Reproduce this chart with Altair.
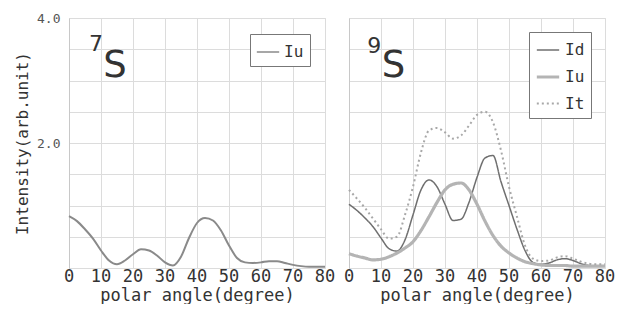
import altair as alt
import pandas as pd

angles = [0, 2.5, 5, 7.5, 10, 12.5, 15, 17.5, 20, 22.5, 25, 27.5, 30, 32.5, 35, 37.5,
          40, 42.5, 45, 47.5, 50, 52.5, 55, 57.5, 60, 62.5, 65, 67.5, 70, 72.5, 75, 77.5, 80]

# 7S panel
iu_7s = [0.83, 0.75, 0.62, 0.47, 0.28, 0.12, 0.06, 0.12, 0.22, 0.30, 0.28, 0.20, 0.09, 0.04,
         0.18, 0.48, 0.72, 0.80, 0.76, 0.60, 0.36, 0.16, 0.09, 0.08, 0.09, 0.11, 0.11, 0.08,
         0.05, 0.03, 0.02, 0.02, 0.02]

# 9S panel
id_9s = [1.02, 0.92, 0.80, 0.66, 0.48, 0.31, 0.27, 0.45, 0.85, 1.25, 1.41, 1.30, 1.02, 0.76,
         0.78, 1.05, 1.45, 1.76, 1.80, 1.38, 1.00, 0.62, 0.28, 0.09, 0.06, 0.08, 0.13, 0.15,
         0.12, 0.07, 0.04, 0.03, 0.03]
iu_9s = [0.23, 0.19, 0.16, 0.13, 0.14, 0.18, 0.24, 0.32, 0.42, 0.60, 0.82, 1.05, 1.25, 1.34,
         1.36, 1.25, 1.02, 0.75, 0.52, 0.35, 0.24, 0.16, 0.10, 0.07, 0.05, 0.04, 0.04, 0.04,
         0.03, 0.03, 0.03, 0.03, 0.03]
it_9s = [1.25, 1.11, 0.96, 0.79, 0.62, 0.47, 0.50, 0.85, 1.30, 1.85, 2.20, 2.24, 2.17, 2.07,
         2.12, 2.28, 2.45, 2.50, 2.33, 1.88, 1.30, 0.82, 0.36, 0.15, 0.11, 0.12, 0.17, 0.19,
         0.15, 0.10, 0.07, 0.06, 0.06]

x_ticks = [0, 10, 20, 30, 40, 50, 60, 70, 80]
y_grid = [0, 0.5, 1.0, 1.5, 2.0, 2.5, 3.0, 3.5, 4.0]

series_9s = ["Id", "Iu", "It"]
colors_9s = ["#6f6f6f", "#b4b4b4", "#a8a8a8"]
dashes_9s = [[1, 0], [1, 0], [2, 3]]
widths_9s = [1.5, 3.2, 2.0]

labels_7s = {"sup": ["7"], "main": ["S"]}
labels_9s = {"sup": ["9"], "main": ["S"]}

MONO = "DejaVu Sans Mono"
TXT = "#333333"
W, H = 256, 250

x_axis = alt.Axis(values=x_ticks, grid=True, gridColor="#dcdcdc", ticks=False, domain=False,
                  labels=False,
                  title="polar angle(degree)", titleFont=MONO, titleFontSize=17,
                  titleFontWeight="normal", titleColor=TXT, titlePadding=19)
x_enc = alt.X("angle:Q", scale=alt.Scale(domain=[0, 80], nice=False), axis=x_axis)


def y_enc(show):
    if show:
        ax = alt.Axis(values=y_grid, grid=True, gridColor="#dcdcdc", ticks=False,
                      domainColor="#c8c8c8",
                      labelExpr="datum.value == 2 || datum.value == 4 ? format(datum.value, '.1f') : ''",
                      labelFont=MONO, labelFontSize=13, labelColor="#555", labelPadding=9,
                      title="Intensity(arb.unit)", titleFont=MONO, titleFontSize=16,
                      titleFontWeight="normal", titleColor=TXT, titlePadding=6)
    else:
        ax = alt.Axis(values=y_grid, grid=True, gridColor="#dcdcdc", ticks=False,
                      domainColor="#c8c8c8", labels=False, title=None)
    return alt.Y("intensity:Q", scale=alt.Scale(domain=[0, 4], nice=False), axis=ax)


def legend(x, y, row_pad):
    return alt.Legend(title=None, orient="none", legendX=x, legendY=y, symbolType="stroke",
                      symbolSize=500, labelFont=MONO, labelFontSize=16, labelColor=TXT,
                      strokeColor="#777", fillColor="white", padding=6, rowPadding=row_pad,
                      labelOffset=4)


def tick_labels():
    df = pd.DataFrame({"angle": x_ticks})
    return alt.Chart(df).mark_text(font=MONO, fontSize=17, color=TXT, align="center",
                                   baseline="top").encode(
        x=x_enc, y=alt.value(H + 1), text=alt.Text("angle:Q", format="d"))


def annotation(sup, main, sx, sy, mx, my, show_y):
    sup_df = pd.DataFrame({"angle": [sx], "intensity": [sy], "t": sup})
    main_df = pd.DataFrame({"angle": [mx], "intensity": [my], "t": main})
    a = alt.Chart(sup_df).mark_text(font="DejaVu Sans", fontSize=22, color=TXT, align="right",
                                    baseline="alphabetic").encode(
        x=x_enc, y=y_enc(show_y), text="t:N")
    b = alt.Chart(main_df).mark_text(font="DejaVu Sans", fontSize=37, color=TXT, align="left",
                                     baseline="alphabetic").encode(
        x=x_enc, y=y_enc(show_y), text="t:N")
    return a + b


df7 = pd.DataFrame({"angle": angles, "intensity": iu_7s, "series": ["Iu"] * len(angles)})
line7 = alt.Chart(df7).mark_line(interpolate="monotone", strokeWidth=2).encode(
    x=x_enc, y=y_enc(True),
    color=alt.Color("series:N", scale=alt.Scale(domain=["Iu"], range=["#8a8a8a"]),
                    legend=legend(181, 16, 4)))
left = alt.layer(line7, annotation(labels_7s["sup"], labels_7s["main"], 10.6, 3.47, 10.7, 3.05, True),
                 tick_labels()).properties(width=W, height=H)

rows = []
for name, vals in zip(series_9s, [id_9s, iu_9s, it_9s]):
    for a_, v in zip(angles, vals):
        rows.append({"angle": a_, "intensity": v, "series": name})
df9 = pd.DataFrame(rows)
line9 = alt.Chart(df9).mark_line(interpolate="monotone").encode(
    x=x_enc, y=y_enc(False),
    color=alt.Color("series:N", sort=series_9s,
                    scale=alt.Scale(domain=series_9s, range=colors_9s),
                    legend=legend(180, 14, 6)),
    strokeDash=alt.StrokeDash("series:N", sort=series_9s,
                              scale=alt.Scale(domain=series_9s, range=dashes_9s),
                              legend=legend(180, 14, 6)),
    strokeWidth=alt.StrokeWidth("series:N", sort=series_9s,
                                scale=alt.Scale(type="ordinal", domain=series_9s, range=widths_9s),
                                legend=legend(180, 14, 6)),
    order=alt.Order("series:N"))
right = alt.layer(line9, annotation(labels_9s["sup"], labels_9s["main"], 10.1, 3.44, 10.2, 3.05, False),
                  tick_labels()).properties(width=W, height=H)

chart = alt.hconcat(left, right, spacing=24, bounds="flush").resolve_scale(
    color="independent", strokeDash="independent", strokeWidth="independent"
).resolve_legend(color="independent", strokeDash="independent", strokeWidth="independent"
).properties(padding={"left": 6, "top": 3, "right": 0, "bottom": 0}
).configure_view(stroke=None).configure(background="white")

chart.save("out.html", embed_options={"renderer": "svg", "actions": False})
